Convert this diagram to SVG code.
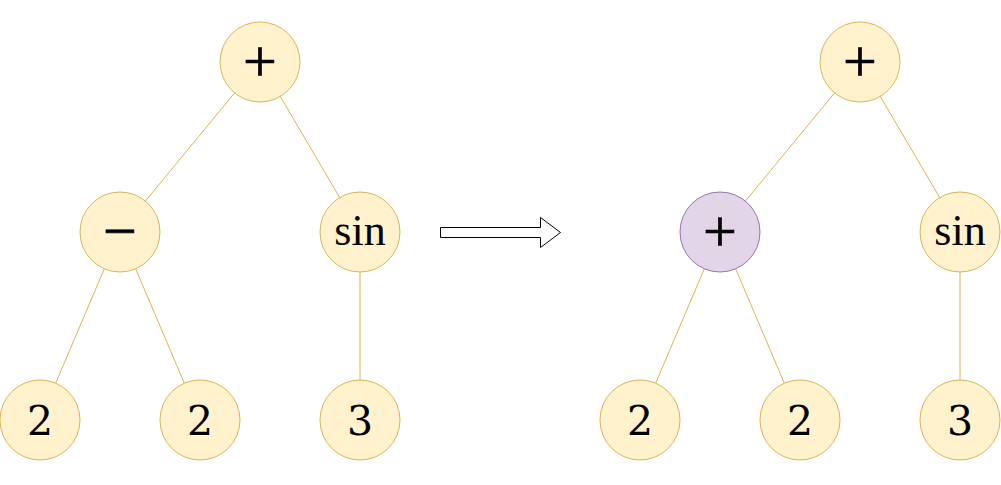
<svg xmlns="http://www.w3.org/2000/svg" width="1001" height="485" viewBox="0 0 1001 485">
<style>
.n{fill:#fff2cc;stroke:#d6b656;stroke-width:1}
.p{fill:#e1d5e7;stroke:#9673a6;stroke-width:1}
.e{stroke:#d6b656;stroke-width:1;fill:none}
.t{font-family:"Liberation Serif","DejaVu Serif",serif;font-size:44px;fill:#000;text-anchor:middle}
.d{font-family:"DejaVu Serif","Liberation Serif",serif;font-size:41px;fill:#000;text-anchor:middle}
.op{font-family:"Liberation Serif","DejaVu Serif",serif;font-size:60px;fill:#000;stroke:#000;stroke-width:0.7;text-anchor:middle}
</style>
<rect width="1001" height="485" fill="#fff"/>
<g id="edges">
<line class="e" x1="234.6" y1="92.9" x2="145.4" y2="201.1"/>
<line class="e" x1="280.3" y1="96.5" x2="339.7" y2="197.5"/>
<line class="e" x1="104.3" y1="268.8" x2="55.7" y2="383.2"/>
<line class="e" x1="135.7" y1="268.8" x2="184.3" y2="383.2"/>
<line class="e" x1="360" y1="272" x2="360" y2="380"/>
<line class="e" x1="834.6" y1="92.9" x2="745.4" y2="201.1"/>
<line class="e" x1="880.3" y1="96.5" x2="939.7" y2="197.5"/>
<line class="e" x1="704.3" y1="268.8" x2="655.7" y2="383.2"/>
<line class="e" x1="735.7" y1="268.8" x2="784.3" y2="383.2"/>
<line class="e" x1="960" y1="272" x2="960" y2="380"/>
</g>
<g id="arrow">
<path d="M440.5 227.5 H540.5 V217.5 L560.5 232.5 L540.5 247.5 V237.5 H440.5 Z" fill="#fff" stroke="#000" stroke-width="1"/>
</g>
<g id="L-plus"><circle class="n" cx="260" cy="62" r="40"/><text class="op" x="260" y="81">+</text></g>
<g id="L-minus"><circle class="n" cx="120" cy="232" r="40"/><text class="op" x="120" y="251">−</text></g>
<g id="L-sin"><circle class="n" cx="360" cy="232" r="40"/><text class="t" x="360" y="245">sin</text></g>
<g id="L-2a"><circle class="n" cx="40" cy="420" r="40"/><text class="d" x="40" y="435">2</text></g>
<g id="L-2b"><circle class="n" cx="200" cy="420" r="40"/><text class="d" x="200" y="435">2</text></g>
<g id="L-3"><circle class="n" cx="360" cy="420" r="40"/><text class="d" x="360" y="435">3</text></g>
<g id="R-plus"><circle class="n" cx="860" cy="62" r="40"/><text class="op" x="860" y="81">+</text></g>
<g id="R-plus2"><circle class="p" cx="720" cy="232" r="40"/><text class="op" x="720" y="251">+</text></g>
<g id="R-sin"><circle class="n" cx="960" cy="232" r="40"/><text class="t" x="960" y="245">sin</text></g>
<g id="R-2a"><circle class="n" cx="640" cy="420" r="40"/><text class="d" x="640" y="435">2</text></g>
<g id="R-2b"><circle class="n" cx="800" cy="420" r="40"/><text class="d" x="800" y="435">2</text></g>
<g id="R-3"><circle class="n" cx="960" cy="420" r="40"/><text class="d" x="960" y="435">3</text></g>
</svg>
